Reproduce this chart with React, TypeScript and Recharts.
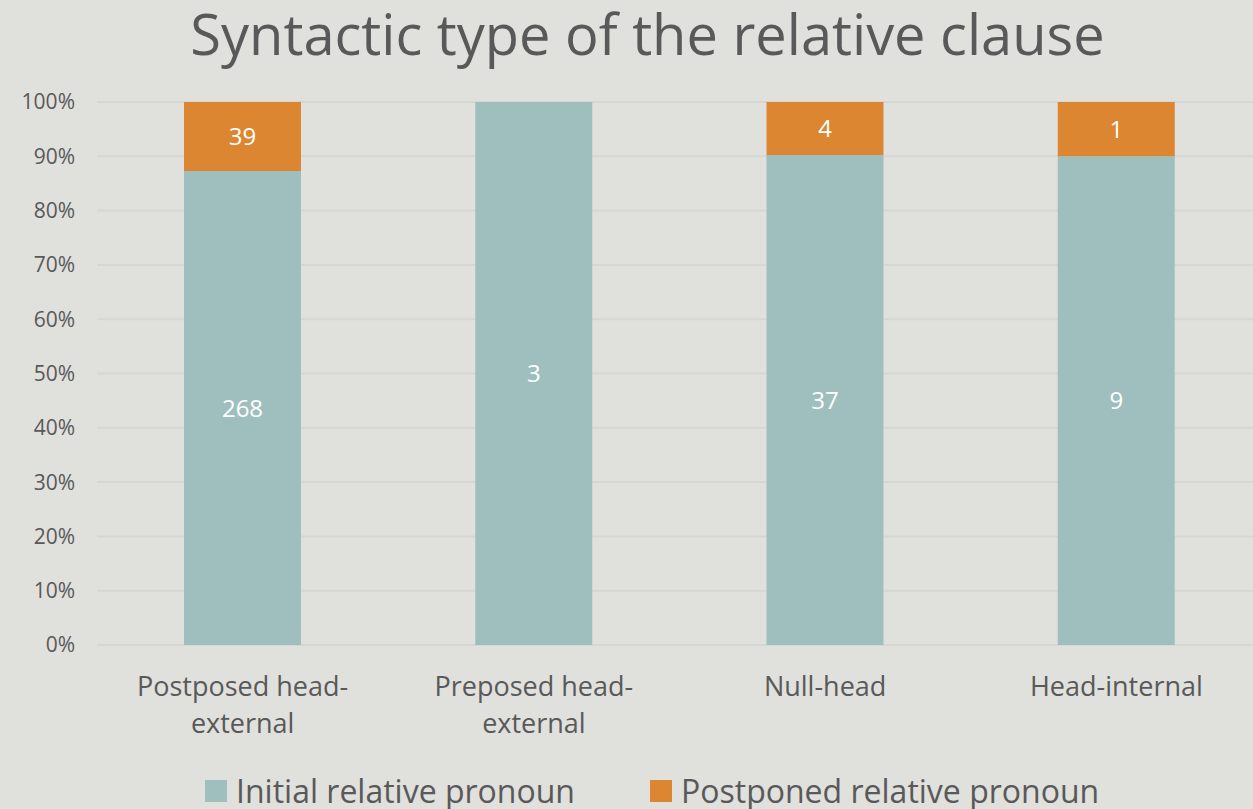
import { BarChart, Bar, XAxis, YAxis, CartesianGrid, Legend, LabelList } from "recharts";

const categories = ["Postposed head-external", "Preposed head-external", "Null-head", "Head-internal"];
const tickLines = [["Postposed head-", "external"], ["Preposed head-", "external"], ["Null-head"], ["Head-internal"]];
const initialPronoun = [268, 3, 37, 9];
const postponedPronoun = [39, 0, 4, 1];
const yTicks = [0, 0.1, 0.2, 0.3, 0.4, 0.5, 0.6, 0.7, 0.8, 0.9, 1];

const data = categories.map((c, i) => ({
  name: c,
  initial: initialPronoun[i],
  postponed: postponedPronoun[i],
}));

const TEAL = "#9fbfbe";
const ORANGE = "#dc8632";
const TEXT = "#595959";
const FONT = "'Open Sans', 'Noto Sans', sans-serif";

function CategoryTick(props: any) {
  const { x, y, payload } = props;
  const lines = tickLines[payload.index] || [payload.value];
  return (
    <text x={x} y={y + 43} textAnchor="middle" fill={TEXT} fontSize={27} fontFamily={FONT}>
      {lines.map((l, i) => (
        <tspan key={i} x={x} dy={i === 0 ? 0 : 37}>
          {l}
        </tspan>
      ))}
    </text>
  );
}

function renderLegend() {
  const items = [
    { label: "Initial relative pronoun", color: TEAL, x: 205 },
    { label: "Postponed relative pronoun", color: ORANGE, x: 650 },
  ];
  return (
    <svg width={1253} height={50} style={{ overflow: "visible" }}>
      {items.map((it) => (
        <g key={it.label}>
          <rect x={it.x} y={28} width={22} height={22} fill={it.color} />
          <text x={it.x + 31} y={51} fill={TEXT} fontSize={32} fontFamily={FONT}>
            {it.label}
          </text>
        </g>
      ))}
    </svg>
  );
}

const labelFmt = (v: any) => (v ? v : "");

export default function App() {
  return (
    <div
      style={{
        position: "absolute",
        left: 0,
        top: 0,
        width: 1253,
        height: 809,
        overflow: "hidden",
        background: "#e0e0dc",
        fontFamily: FONT,
      }}
    >
      <div
        style={{
          position: "absolute",
          top: 0,
          left: 0,
          width: 1253,
          textAlign: "center",
          fontSize: 56,
          color: TEXT,
          lineHeight: "66px",
          paddingLeft: 42,
          boxSizing: "border-box",
          whiteSpace: "nowrap",
        }}
      >
        Syntactic type of the relative clause
      </div>
      <div style={{ position: "absolute", top: 0, left: 0 }}>
        <BarChart
          width={1262}
          height={809}
          data={data}
          stackOffset="expand"
          barSize={117}
          margin={{ top: 102, right: 0, bottom: 0, left: 0 }}
        >
          <CartesianGrid vertical={false} stroke="#d6d6d3" strokeWidth={2} />
          <XAxis
            dataKey="name"
            axisLine={false}
            tickLine={false}
            tick={<CategoryTick />}
            interval={0}
            height={107}
          />
          <YAxis
            ticks={yTicks}
            domain={[0, 1]}
            tickFormatter={(v: number) => `${Math.round(v * 100)}%`}
            axisLine={false}
            tickLine={false}
            width={97}
            tickMargin={16}
            tick={{ fill: TEXT, fontSize: 21, fontFamily: FONT }}
            interval={0}
          />
          <Legend content={renderLegend} verticalAlign="bottom" height={57} />
          <Bar dataKey="initial" stackId="a" fill={TEAL} isAnimationActive={false}>
            <LabelList dataKey="initial" position="center" fill="#ffffff" fontSize={24} fontFamily={FONT} formatter={labelFmt} />
          </Bar>
          <Bar dataKey="postponed" stackId="a" fill={ORANGE} isAnimationActive={false}>
            <LabelList dataKey="postponed" position="center" fill="#ffffff" fontSize={24} fontFamily={FONT} formatter={labelFmt} />
          </Bar>
        </BarChart>
      </div>
    </div>
  );
}
